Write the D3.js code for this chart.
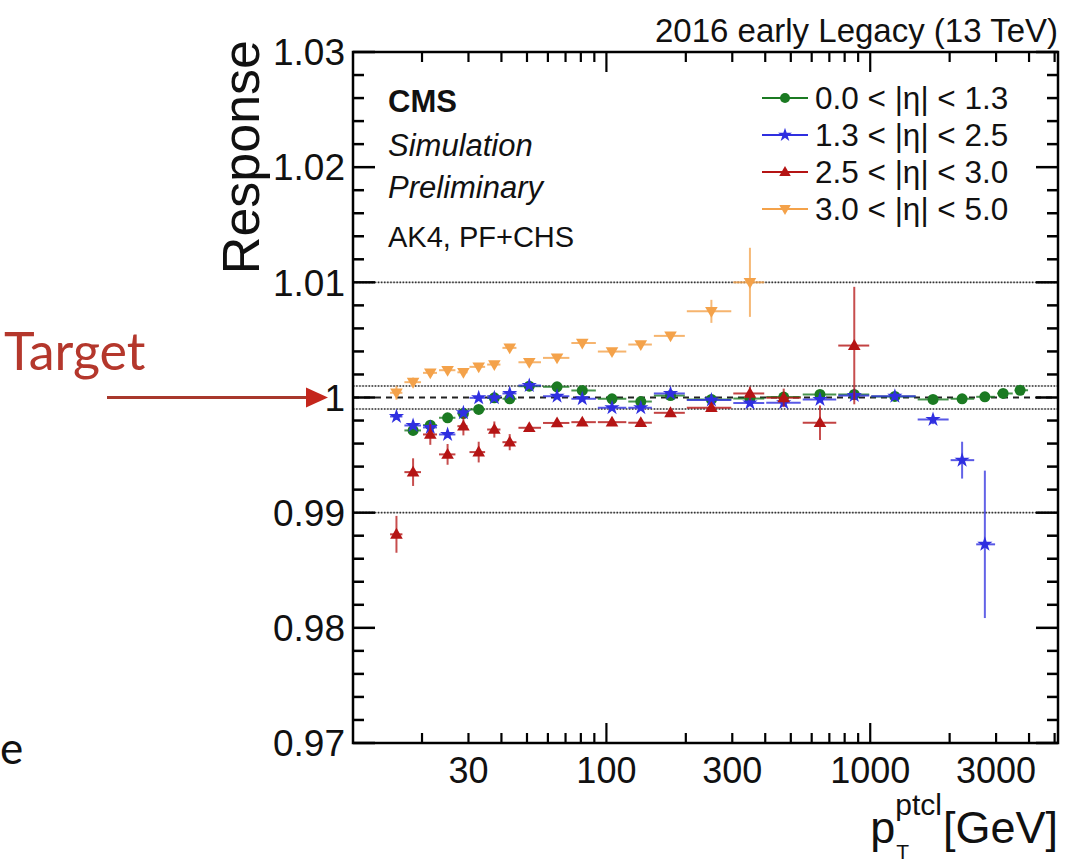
<!DOCTYPE html>
<html>
<head>
<meta charset="utf-8">
<script src="https://cdn.jsdelivr.net/npm/d3@7/dist/d3.min.js"></script>
<style>
  html, body { margin: 0; padding: 0; background: #fff; }
  svg { display: block; }
  text { font-family: "Liberation Sans", Arial, Helvetica, sans-serif; fill: #111; }
</style>
</head>
<body>
<svg id="chart" width="1068" height="865"></svg>
<script>
// pT bins (GeV): centres and edges shared by all eta regions
const ptCenters = [16, 18.5, 21.5, 25, 28.7, 32.8, 37.6, 43, 51, 65, 81, 105, 135, 175, 250, 350, 470, 645, 870, 1240, 1730, 2230, 2720, 3190, 3700];
const ptEdges = [15, 17, 20, 23, 27, 30, 35, 40, 46, 57, 73, 92, 120, 150, 200, 300, 400, 550, 750, 1000, 1500, 2000, 2500, 3000, 3500, 4000];

// Response per bin and its uncertainty, one pair of arrays per |eta| region
const respEta0013 = [null, 0.99714, 0.99760, 0.99824, 0.99861, 0.99896, 0.99997, 0.99989, 1.00098, 1.00093, 1.00061, 0.99989, 0.99965, 1.00017, 0.99983, 0.99991, 1.00004, 1.00026, 1.00026, 1.00009, 0.99983, 0.99989, 1.00006, 1.00035, 1.00063];
const errEta0013  = [null, 0.0002, 0.0002, 0.0002, 0.00015, 0.00015, 0.00015, 0.00015, 0.0001, 0.0001, 0.0001, 0.0001, 0.0001, 0.0001, 0.0001, 0.0001, 0.0001, 0.0001, 0.0001, 0.0001, 0.0001, 0.00012, 0.00015, 0.0002, 0.0002];

const respEta1325 = [0.99835, 0.99757, 0.99740, 0.99679, 0.99867, 0.99997, 0.99997, 1.00035, 1.00104, 1.00011, 0.99989, 0.99911, 0.99911, 1.00035, 0.99978, 0.99952, 0.99954, 0.99983, 1.00017, 1.00011, 0.99809, 0.99456, 0.98725, null, null];
const errEta1325  = [0.0003, 0.0003, 0.0003, 0.0003, 0.0002, 0.0002, 0.0002, 0.0002, 0.0002, 0.0002, 0.0002, 0.0002, 0.0002, 0.0002, 0.0002, 0.0002, 0.0002, 0.0002, 0.0002, 0.0003, 0.0004, 0.0016, 0.0064, null, null];

const respEta2530 = [0.98812, 0.99352, 0.99679, 0.99506, 0.99751, 0.99526, 0.99722, 0.99612, 0.99737, 0.99779, 0.99786, 0.99786, 0.99781, 0.99867, 0.99911, 1.00035, 0.99997, 0.99781, 1.00451, null, null, null, null, null, null];
const errEta2530  = [0.0016, 0.0012, 0.0009, 0.0009, 0.0008, 0.0009, 0.0007, 0.0007, 0.0003, 0.0003, 0.0003, 0.0003, 0.0003, 0.0003, 0.0003, 0.0006, 0.0008, 0.0015, 0.0051, null, null, null, null, null, null];

const respEta3050 = [1.00041, 1.00133, 1.00214, 1.00237, 1.00219, 1.00266, 1.00286, 1.00431, 1.00306, 1.00344, 1.00473, 1.00399, 1.00460, 1.00535, 1.00748, 1.01000, null, null, null, null, null, null, null, null, null];
const errEta3050  = [0.0006, 0.0004, 0.0003, 0.0003, 0.0003, 0.0003, 0.0003, 0.0003, 0.0002, 0.0002, 0.0002, 0.0002, 0.0002, 0.0003, 0.0010, 0.0030, null, null, null, null, null, null, null, null, null];

const legendLabels = ["0.0 < |η| < 1.3", "1.3 < |η| < 2.5", "2.5 < |η| < 3.0", "3.0 < |η| < 5.0"];
const seriesColors = ["#1b7a22", "#2f2fe0", "#b51414", "#f4a24a"];
const seriesMarkers = ["circle", "star", "triUp", "triDown"];

const xTickLabels = [30, 100, 300, 1000, 3000];
const yTickLabels = [0.97, 0.98, 0.99, 1.00, 1.01, 1.02, 1.03];
const yTickText = ["0.97", "0.98", "0.99", "1", "1.01", "1.02", "1.03"];

const series = [
  { resp: respEta0013, err: errEta0013 },
  { resp: respEta1325, err: errEta1325 },
  { resp: respEta2530, err: errEta2530 },
  { resp: respEta3050, err: errEta3050 }
].map((s, k) => ({
  ...s, label: legendLabels[k], color: seriesColors[k], marker: seriesMarkers[k]
}));

// ---- layout
const frame = { left: 353, right: 1058, top: 52, bottom: 743 };
const svg = d3.select("#chart");

const x = d3.scaleLog().domain([10.95, 5150]).range([frame.left, frame.right]);
const y = d3.scaleLinear().domain([0.97, 1.03]).range([frame.bottom, frame.top]);

// ---- reference lines
const g = svg.append("g");
function hline(v, style) {
  const yy = y(v);
  if (style === "dotted") {
    g.append("line").attr("x1", frame.left).attr("x2", frame.right).attr("y1", yy).attr("y2", yy)
      .attr("stroke", "#c4c4c4").attr("stroke-width", 1);
    g.append("line").attr("x1", frame.left).attr("x2", frame.right).attr("y1", yy).attr("y2", yy)
      .attr("stroke", "#333").attr("stroke-width", 1.6).attr("stroke-dasharray", "1.5,1.6");
  } else {
    g.append("line").attr("x1", frame.left).attr("x2", frame.right).attr("y1", yy).attr("y2", yy)
      .attr("stroke", "#222").attr("stroke-width", 2).attr("stroke-dasharray", "6,5");
  }
}
[1.01, 0.99, 1.001, 0.999].forEach(v => hline(v, "dotted"));
hline(1.0, "dashed");

// ---- markers
function markerPath(type, size) {
  const s = size;
  if (type === "circle") return d3.symbol(d3.symbolCircle, Math.PI * s * s)();
  if (type === "star") return d3.symbol(d3.symbolStar, s * s * 2.0)();
  const h = s * 1.8, w = s * 2.1;
  if (type === "triUp") return `M0,${-h * 0.6}L${w / 2},${h * 0.4}L${-w / 2},${h * 0.4}Z`;
  return `M0,${h * 0.6}L${w / 2},${-h * 0.4}L${-w / 2},${-h * 0.4}Z`;
}

const dataG = svg.append("g");
series.forEach(s => {
  const pts = ptCenters.map((pt, i) => ({ pt, i, v: s.resp[i], e: s.err[i] })).filter(d => d.v != null);
  const sg = dataG.append("g");
  // horizontal bin-width bars
  sg.selectAll("line.xe").data(pts).join("line")
    .attr("x1", d => x(ptEdges[d.i]) + 1).attr("x2", d => x(ptEdges[d.i + 1]) - 1)
    .attr("y1", d => y(d.v)).attr("y2", d => y(d.v))
    .attr("stroke", s.color).attr("stroke-width", 2).attr("opacity", 0.8);
  // vertical uncertainty bars
  sg.selectAll("line.ye").data(pts).join("line")
    .attr("x1", d => x(d.pt)).attr("x2", d => x(d.pt))
    .attr("y1", d => y(d.v + d.e)).attr("y2", d => y(d.v - d.e))
    .attr("stroke", s.color).attr("stroke-width", 2).attr("opacity", 0.75);
  sg.selectAll("path").data(pts).join("path")
    .attr("d", markerPath(s.marker, s.marker === "circle" ? 5.5 : 6))
    .attr("transform", d => `translate(${x(d.pt)},${y(d.v)})`)
    .attr("fill", s.color);
});

// ---- frame and ticks
const axG = svg.append("g");
axG.append("rect").attr("x", frame.left).attr("y", frame.top)
  .attr("width", frame.right - frame.left).attr("height", frame.bottom - frame.top)
  .attr("fill", "none").attr("stroke", "#000").attr("stroke-width", 2.5);

const yMinor = d3.range(0, 31).map(k => 0.97 + k * 0.002);
yMinor.forEach(v => {
  const major = Math.abs(Math.round(v * 100) - v * 100) < 1e-6;
  const len = major ? 22 : 11;
  axG.append("line").attr("x1", frame.left).attr("x2", frame.left + len).attr("y1", y(v)).attr("y2", y(v))
    .attr("stroke", "#000").attr("stroke-width", 2.5);
  axG.append("line").attr("x1", frame.right).attr("x2", frame.right - len).attr("y1", y(v)).attr("y2", y(v))
    .attr("stroke", "#000").attr("stroke-width", 2.5);
});

const xTicks = [];
[10, 100, 1000].forEach(dec => d3.range(1, 10).forEach(m => {
  const v = dec * m;
  if (v > x.domain()[0] && v < x.domain()[1]) xTicks.push(v);
}));
xTicks.forEach(v => {
  const major = (v === 100 || v === 1000);
  const len = major ? 20 : 10;
  axG.append("line").attr("x1", x(v)).attr("x2", x(v)).attr("y1", frame.bottom).attr("y2", frame.bottom - len)
    .attr("stroke", "#000").attr("stroke-width", 2.2);
  axG.append("line").attr("x1", x(v)).attr("x2", x(v)).attr("y1", frame.top).attr("y2", frame.top + len)
    .attr("stroke", "#000").attr("stroke-width", 2.2);
});

// tick labels
svg.append("g").selectAll("text").data(yTickLabels).join("text")
  .attr("x", frame.left - 8).attr("y", d => y(d)).attr("dy", "0.36em")
  .attr("text-anchor", "end").attr("font-size", 37).text((d, i) => yTickText[i]);

svg.append("g").selectAll("text").data(xTickLabels).join("text")
  .attr("x", d => x(d)).attr("y", 783).attr("text-anchor", "middle")
  .attr("font-size", 36).text(d => d);

// axis titles
svg.append("text").attr("transform", `translate(259,40) rotate(-90)`)
  .attr("text-anchor", "end").attr("font-size", 52).text("Response");

const xt = svg.append("g");
const gev = xt.append("text").attr("x", frame.right).attr("y", 843).attr("text-anchor", "end")
  .attr("font-size", 45).text("[GeV]");
const gevW = gev.node().getComputedTextLength();
const sup = xt.append("text").attr("x", frame.right - gevW - 1).attr("y", 815).attr("text-anchor", "end")
  .attr("font-size", 30).text("ptcl");
const supW = sup.node().getComputedTextLength();
xt.append("text").attr("x", frame.right - gevW - supW - 1).attr("y", 843).attr("text-anchor", "end")
  .attr("font-size", 45).text("p");
xt.append("text").attr("x", frame.right - gevW - supW).attr("y", 859)
  .attr("font-size", 21).text("T");

// header
svg.append("text").attr("x", frame.right).attr("y", 42).attr("text-anchor", "end")
  .attr("font-size", 33).text("2016 early Legacy (13 TeV)");

svg.append("text").attr("x", 388).attr("y", 112).attr("font-size", 31).attr("font-weight", "bold").text("CMS");
svg.append("text").attr("x", 388).attr("y", 156).attr("font-size", 31).attr("font-style", "italic").text("Simulation");
svg.append("text").attr("x", 388).attr("y", 198).attr("font-size", 31).attr("font-style", "italic").text("Preliminary");
svg.append("text").attr("x", 388).attr("y", 247).attr("font-size", 29).text("AK4, PF+CHS");

// legend
const lg = svg.append("g");
series.forEach((s, k) => {
  const yy = 98 + k * 37;
  lg.append("line").attr("x1", 762).attr("x2", 808).attr("y1", yy).attr("y2", yy)
    .attr("stroke", s.color).attr("stroke-width", 2);
  lg.append("path").attr("d", markerPath(s.marker, s.marker === "circle" ? 5 : 5.5))
    .attr("transform", `translate(785,${yy})`).attr("fill", s.color);
  lg.append("text").attr("x", 815).attr("y", yy).attr("dy", "0.36em").attr("font-size", 31.5).text(s.label);
});

// target annotation
const ann = svg.append("g");
ann.append("text").attr("x", 4).attr("y", 370).attr("font-size", 52)
  .style("font-family", "Lato, 'Open Sans', sans-serif").style("fill", "#b4372c").text("Target");
ann.append("line").attr("x1", 107).attr("x2", 312).attr("y1", y(1.0)).attr("y2", y(1.0))
  .attr("stroke", "#a8382c").attr("stroke-width", 3);
ann.append("path").attr("d", `M306,${y(1.0) - 10}L328,${y(1.0)}L306,${y(1.0) + 10}Z`).attr("fill", "#c4261c");

svg.append("text").attr("x", 0).attr("y", 764).attr("font-size", 44)
  .style("font-family", "Lato, 'Open Sans', sans-serif").text("e");
</script>
</body>
</html>
